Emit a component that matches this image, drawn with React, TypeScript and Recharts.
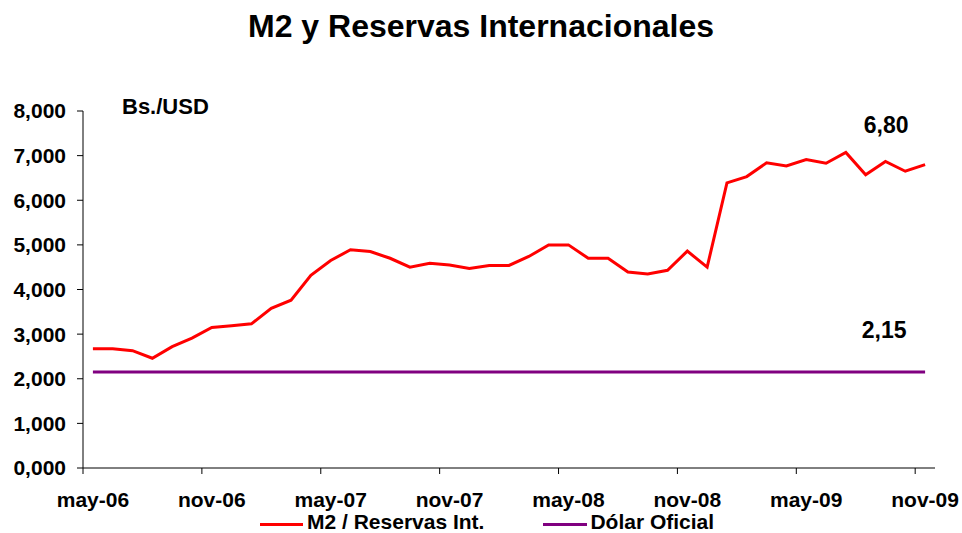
import { LineChart, Line, XAxis, YAxis, Legend } from "recharts";

const meses = [
  "may-06", "jun-06", "jul-06", "ago-06", "sep-06", "oct-06", "nov-06", "dic-06",
  "ene-07", "feb-07", "mar-07", "abr-07", "may-07", "jun-07", "jul-07", "ago-07",
  "sep-07", "oct-07", "nov-07", "dic-07", "ene-08", "feb-08", "mar-08", "abr-08",
  "may-08", "jun-08", "jul-08", "ago-08", "sep-08", "oct-08", "nov-08", "dic-08",
  "ene-09", "feb-09", "mar-09", "abr-09", "may-09", "jun-09", "jul-09", "ago-09",
  "sep-09", "oct-09", "nov-09",
];

const m2Reservas = [
  2.67, 2.67, 2.63, 2.46, 2.72, 2.91, 3.15, 3.19, 3.23, 3.58, 3.76, 4.32,
  4.65, 4.89, 4.85, 4.7, 4.5, 4.59, 4.55, 4.47, 4.54, 4.54, 4.74, 5.0,
  5.0, 4.7, 4.7, 4.39, 4.35, 4.43, 4.86, 4.5, 6.39, 6.53, 6.84, 6.77,
  6.91, 6.83, 7.07, 6.57, 6.87, 6.65, 6.8,
];

const dolarOficial = [
  2.15, 2.15, 2.15, 2.15, 2.15, 2.15, 2.15, 2.15, 2.15, 2.15, 2.15, 2.15,
  2.15, 2.15, 2.15, 2.15, 2.15, 2.15, 2.15, 2.15, 2.15, 2.15, 2.15, 2.15,
  2.15, 2.15, 2.15, 2.15, 2.15, 2.15, 2.15, 2.15, 2.15, 2.15, 2.15, 2.15,
  2.15, 2.15, 2.15, 2.15, 2.15, 2.15, 2.15,
];

const yTicks = [0, 1, 2, 3, 4, 5, 6, 7, 8];

const FONT = '"Liberation Sans", Arial, Helvetica, sans-serif';
const PLOT_W = 852;
const STEP = PLOT_W / meses.length;
const LAST = meses.length - 1;

const data = meses.map((mes, i) => ({
  mes,
  m2: m2Reservas[i],
  dolar: dolarOficial[i],
}));

const fmt = (v: number) => v.toFixed(2).replace(".", ",");

// x ticks: mark sits on the category boundary, label on the category
const XTick = ({ x, y, payload }: any) => (
  <g>
    <line x1={x - STEP / 2} x2={x - STEP / 2} y1={y} y2={y + 6} stroke="#000" strokeWidth={1} />
    <text x={x} y={y + 39} textAnchor="middle" fontFamily={FONT} fontWeight="bold" fontSize={21} fill="#000">
      {payload.value}
    </text>
  </g>
);

const lastLabel = (dx: number, dy: number) => (props: any) => {
  const { x, y, index, value } = props;
  if (index !== LAST) return null;
  return (
    <text x={x + dx} y={y + dy} textAnchor="middle" fontFamily={FONT} fontWeight="bold" fontSize={23} fill="#000">
      {fmt(value)}
    </text>
  );
};

const LegendContent = () => (
  <div
    style={{
      height: 22,
      lineHeight: "22px",
      display: "flex",
      alignItems: "center",
      paddingLeft: 260,
      fontFamily: FONT,
      fontWeight: "bold",
      fontSize: 21,
      color: "#000",
      whiteSpace: "pre",
    }}
  >
    <span style={{ width: 43, height: 3, background: "#FF0000", display: "inline-block", position: "relative", top: 2 }} />
    <span style={{ marginLeft: 4 }}>M2 / Reservas Int.</span>
    <span style={{ width: 44, height: 3, background: "#800080", display: "inline-block", marginLeft: 59, position: "relative", top: 2 }} />
    <span style={{ marginLeft: 3 }}>Dólar Oficial</span>
  </div>
);

export default function App() {
  return (
    <div style={{ position: "absolute", left: 0, top: 0, width: 962, height: 533, background: "#fff" }}>
      <div
        style={{
          position: "absolute",
          top: 10,
          left: 0,
          width: 962,
          textAlign: "center",
          fontFamily: FONT,
          fontWeight: "bold",
          fontSize: 32,
          lineHeight: "32px",
        }}
      >
        M2 y Reservas Internacionales
      </div>
      <div
        style={{
          position: "absolute",
          top: 96,
          left: 122,
          fontFamily: FONT,
          fontWeight: "bold",
          fontSize: 22,
          lineHeight: "22px",
          zIndex: 2,
        }}
      >
        Bs./USD
      </div>
      <LineChart width={962} height={533} data={data} margin={{ top: 111, right: 27, bottom: 0, left: 0 }}>
        <XAxis
          dataKey="mes"
          scale="point"
          interval={5}
          padding={{ left: STEP / 2, right: STEP / 2 }}
          height={43}
          tickSize={0}
          tickMargin={0}
          tickLine={false}
          axisLine={{ stroke: "#000", strokeWidth: 1 }}
          tick={<XTick />}
        />
        <YAxis
          domain={[0, 8]}
          ticks={yTicks}
          width={83}
          tickSize={6}
          tickMargin={11}
          tickFormatter={(v: number) => v.toFixed(3).replace(".", ",")}
          axisLine={{ stroke: "#000", strokeWidth: 1 }}
          tickLine={{ stroke: "#000", strokeWidth: 1 }}
          tick={{ fill: "#000", fontSize: 21, fontWeight: "bold", fontFamily: FONT }}
        />
        <Legend verticalAlign="bottom" height={22} content={<LegendContent />} />
        <Line
          type="linear"
          dataKey="dolar"
          name="Dólar Oficial"
          stroke="#800080"
          strokeWidth={3}
          dot={false}
          activeDot={false}
          isAnimationActive={false}
          label={lastLabel(-41, -34)}
        />
        <Line
          type="linear"
          dataKey="m2"
          name="M2 / Reservas Int."
          stroke="#FF0000"
          strokeWidth={3}
          dot={false}
          activeDot={false}
          isAnimationActive={false}
          label={lastLabel(-39, -32)}
        />
      </LineChart>
    </div>
  );
}
